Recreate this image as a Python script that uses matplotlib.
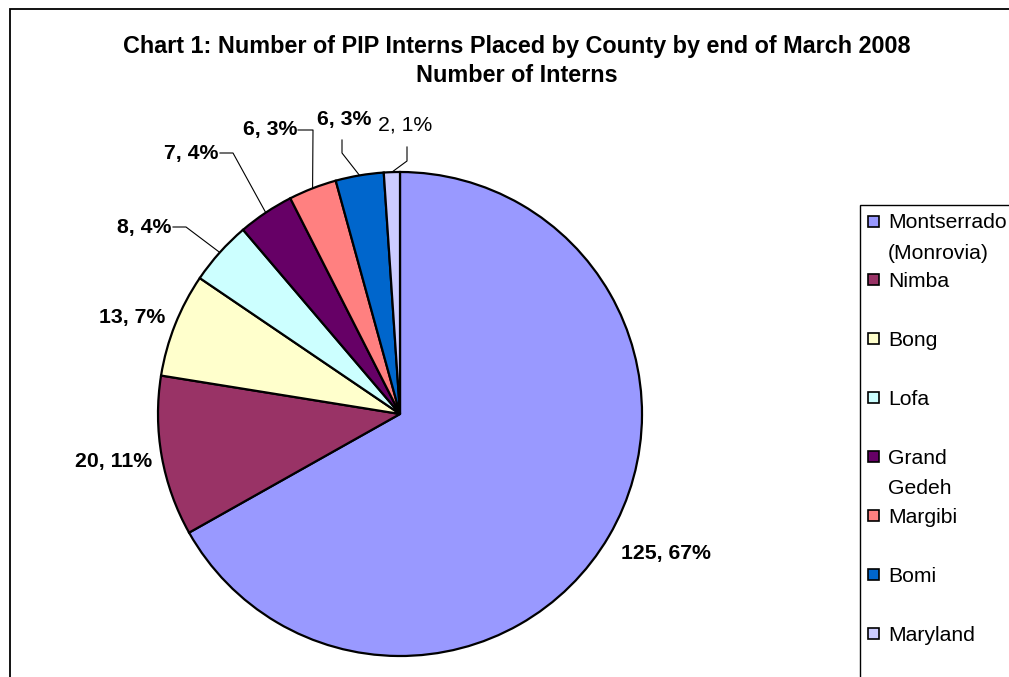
import numpy as np
import matplotlib
matplotlib.use("Agg")
import matplotlib.pyplot as plt
from matplotlib.patches import Rectangle

plt.rcParams['font.family'] = ['Liberation Sans', 'DejaVu Sans']

# data
counties = ['Montserrado\n(Monrovia)', 'Nimba', 'Bong', 'Lofa', 'Grand\nGedeh',
            'Margibi', 'Bomi', 'Maryland']
interns = [125, 20, 13, 8, 7, 6, 6, 2]
colors = ['#9999FF', '#993366', '#FFFFCC', '#CCFFFF', '#660066',
          '#FF8080', '#0066CC', '#CCCCFF']
label_bold = [True, True, True, True, True, True, True, False]

W, H = 1009, 677
def py(y):
    return H - y

# label layout in pixels (x, y, ha, leader elbow points)
label_pos = [
    (666, 553, 'center', []),
    (114, 462, 'center', []),
    (132, 318, 'center', []),
    (171, 227, 'right', [(173, 227), (186, 227)]),
    (218, 153, 'right', [(220, 153), (233, 153)]),
    (297, 130, 'right', [(298, 130), (313, 130)]),
    (344, 120, 'center', [(342, 140), (342, 153)]),
    (405, 125, 'center', [(407, 147), (407, 161)]),
]

fig = plt.figure(figsize=(W / 100, H / 100), dpi=100)
ax = fig.add_axes([0, 0, 1, 1])

cx, cy, r = 400, py(414), 242
wedges, _ = ax.pie(interns, colors=colors, startangle=90, counterclock=False,
                   center=(cx, cy), radius=r,
                   wedgeprops=dict(edgecolor='black', linewidth=1.6))
ax.set_aspect('auto')
ax.set_xlim(0, W)
ax.set_ylim(0, H)
ax.axis('off')

total = sum(interns)
for w, n, bold, (lx, ly, ha, elbow) in zip(wedges, interns, label_bold, label_pos):
    pct = int(round(100 * n / total))
    ax.text(lx, py(ly), f"{n}, {pct}%", ha=ha, va='center', fontsize=15.3,
            fontweight='bold' if bold else 'normal')
    if elbow:
        mid = np.deg2rad((w.theta1 + w.theta2) / 2)
        xs = [p[0] for p in elbow] + [cx + r * np.cos(mid)]
        ys = [py(p[1]) for p in elbow] + [cy + r * np.sin(mid)]
        ax.plot(xs, ys, color='black', lw=0.8)

# title
ax.text(517, py(47), 'Chart 1: Number of PIP Interns Placed by County by end of March 2008',
        ha='center', va='center', fontsize=16.8, fontweight='bold')
ax.text(517, py(76), 'Number of Interns', ha='center', va='center',
        fontsize=16.8, fontweight='bold')

# chart border
ax.add_patch(Rectangle((10, -20), W + 20, py(9) + 20, fill=False,
                       edgecolor='black', lw=1.3, clip_on=False))

# legend
ax.add_patch(Rectangle((860, -20), 200, py(205) + 20, fill=False,
                       edgecolor='black', lw=1.0))
for i, (name, c) in enumerate(zip(counties, colors)):
    y = 221 + i * 58.9
    ax.add_patch(Rectangle((868, py(y) - 5.5), 11, 11, facecolor=c,
                           edgecolor='black', lw=1.2))
    ax.text(888, py(y) + 7.5, name, ha='left', va='top', fontsize=15.2,
            linespacing=1.76)

fig.savefig('out.png', dpi=100)
